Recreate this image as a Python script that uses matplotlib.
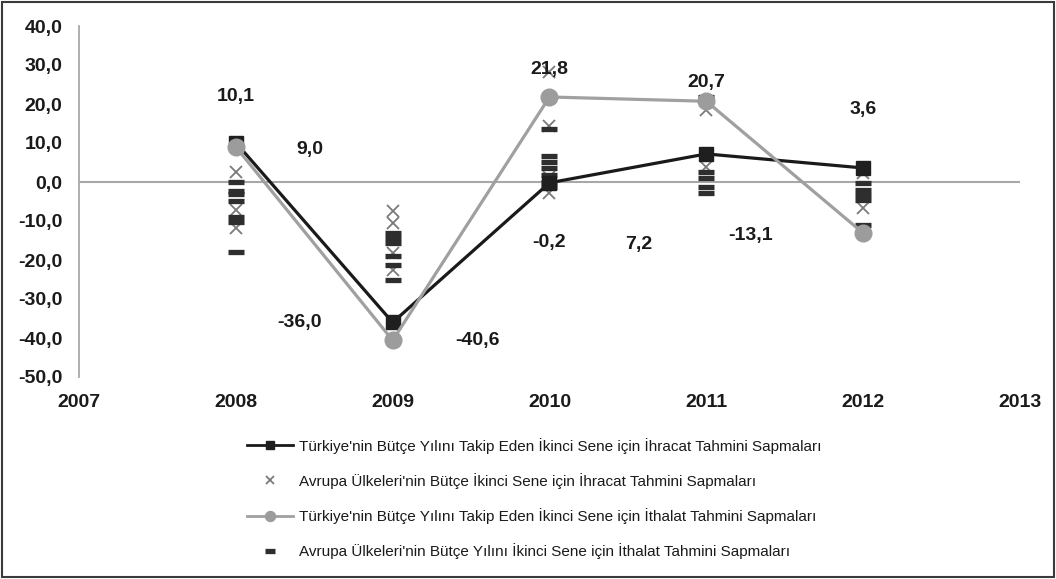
import numpy as np
import matplotlib
matplotlib.use("Agg")
import matplotlib.pyplot as plt
from matplotlib.patches import Rectangle

plt.rcParams['font.family'] = ['Liberation Sans Narrow', 'Liberation Sans', 'DejaVu Sans']

## DATA ##
years = [2008, 2009, 2010, 2011, 2012]
tr_export = [10.1, -36.0, -0.2, 7.2, 3.6]    # Türkiye ihracat sapmalari
tr_import = [9.0, -40.6, 21.8, 20.7, -13.1]  # Türkiye ithalat sapmalari

# Avrupa ulkeleri (dagilim noktalari), yila gore
eu_export = {
    2008: [2.6, -7.2, -11.8],
    2009: [-7.4, -10.4, -18.2, -22.6],
    2010: [28.3, 14.4, 1.4, -2.9],
    2011: [18.5, 3.9],
    2012: [2.3, -6.7],
}
eu_import = {
    2008: [0.1, -2.2, -3.1, -4.9, -8.9, -10.2, -18.0],
    2009: [-13.0, -14.3, -15.7, -19.1, -21.3, -25.0],
    2010: [13.6, 6.7, 5.2, 3.5, 1.8, 0.1, -1.2],
    2011: [21.9, 2.6, 0.9, -1.2, -2.9],
    2012: [-0.3, -2.0, -3.3, -4.6, -11.0],
}

labels = [
    "Türkiye'nin Bütçe Yılını Takip Eden İkinci Sene için İhracat Tahmini Sapmaları",
    "Avrupa Ülkeleri'nin Bütçe İkinci Sene için İhracat Tahmini Sapmaları",
    "Türkiye'nin Bütçe Yılını Takip Eden İkinci Sene için İthalat Tahmini Sapmaları",
    "Avrupa Ülkeleri'nin Bütçe Yılını İkinci Sene için İthalat Tahmini Sapmaları",
]

yticks = np.arange(-50, 41, 10)
xticks = np.arange(2007, 2014)

# label offsets in pixels (dx, dy) relative to the point
exp_offsets = [(0, 46), (-93, 0), (0, -60), (-68, -91), (0, 58)]
imp_offsets = [(74, -3), (85, 0), (0, 27), (0, 19), (-113, -2)]


def fmt(v):
    return f"{v:.1f}".replace(".", ",")


fig = plt.figure(figsize=(10.56, 5.79), dpi=100)
ax = fig.add_axes([79 / 1056, 1 - 377 / 579, (1020 - 79) / 1056, (377 - 26) / 579])

ex_x = [y for y in years for _ in eu_export[y]]
ex_y = [v for y in years for v in eu_export[y]]
im_x = [y for y in years for _ in eu_import[y]]
im_y = [v for y in years for v in eu_import[y]]

ax.axhline(0, color="#a8a8a8", lw=1.5, zorder=1)

h1, = ax.plot(years, tr_export, color="#1a1a1a", lw=2.3, marker="s", ms=10,
              mfc="#1f1f1f", mec="#1f1f1f", zorder=4)
h2, = ax.plot(ex_x, ex_y, ls="none", marker="x", ms=9, mew=1.3, color="#7a7a7a", zorder=3)
h3, = ax.plot(years, tr_import, color="#a0a0a0", lw=2.3, marker="o", ms=12,
              mfc="#9c9c9c", mec="#9c9c9c", zorder=5)
h4, = ax.plot(im_x, im_y, ls="none", marker="_", ms=12, mew=3.8, color="#2e2e2e", zorder=3)

for y, v, (dx, dy) in zip(years, tr_export, exp_offsets):
    ax.annotate(fmt(v), (y, v), xytext=(dx * 0.72, dy * 0.72), textcoords="offset points",
                ha="center", va="center", fontsize=14, fontweight="bold", color="#1a1a1a")
for y, v, (dx, dy) in zip(years, tr_import, imp_offsets):
    ax.annotate(fmt(v), (y, v), xytext=(dx * 0.72, dy * 0.72), textcoords="offset points",
                ha="center", va="center", fontsize=14, fontweight="bold", color="#1a1a1a")

ax.set_xlim(2007, 2013)
ax.set_ylim(-50, 40)
ax.set_xticks(xticks)
ax.set_xticklabels([str(x) for x in xticks])
ax.set_yticks(yticks)
ax.set_yticklabels([fmt(v) for v in yticks])
ax.tick_params(length=0, labelsize=14, colors="#1a1a1a")
ax.tick_params(axis="x", pad=12)
ax.tick_params(axis="y", pad=12)
for lab in ax.get_xticklabels() + ax.get_yticklabels():
    lab.set_fontweight("bold")
for s in ["top", "right", "bottom"]:
    ax.spines[s].set_visible(False)
ax.spines["left"].set_color("#a8a8a8")
ax.spines["left"].set_linewidth(1.3)

leg = fig.legend([h1, h2, h3, h4], labels, loc="upper left",
                 bbox_to_anchor=(233 / 1056, 1 - 424 / 579), frameon=False,
                 fontsize=11, labelspacing=1.25, handlelength=3.0,
                 handletextpad=0.4, markerscale=0.6)
for t in leg.get_texts():
    t.set_color("#1a1a1a")
for ln in leg.get_lines():
    ln.set_linewidth(2.0)

fig.patches.append(Rectangle((0.002, 0.003), 0.996, 0.994, transform=fig.transFigure,
                             fill=False, edgecolor="#3a3a3a", lw=1.5))

fig.savefig("out.png", dpi=100)
